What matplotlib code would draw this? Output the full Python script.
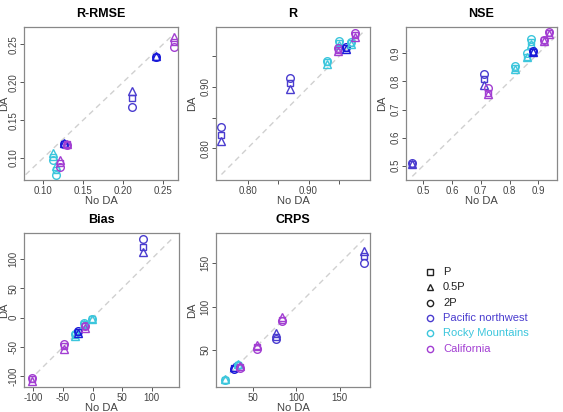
import matplotlib
matplotlib.use("Agg")
import matplotlib.pyplot as plt

plt.rcParams['font.family'] = ['Liberation Sans', 'DejaVu Sans']

# region colours (index 3 = darker blue used for one Pacific northwest basin)
region_names = ["Pacific northwest", "Rocky Mountains", "California"]
region_colors = ["#4a3ccf", "#3cc6dc", "#a23ed2", "#1a1ad8"]

# ---- data: x = No DA, y for P / 0.5P / 2P ----
rrmse_reg = [1, 1, 2, 3, 2, 0, 3, 2]
rrmse_x = [0.112, 0.116, 0.121, 0.126, 0.130, 0.211, 0.241, 0.264]
rrmse_p = [0.101, 0.084, 0.093, 0.119, 0.118, 0.179, 0.234, 0.253]
rrmse_half = [0.106, 0.089, 0.098, 0.120, 0.119, 0.188, 0.235, 0.260]
rrmse_2p = [0.098, 0.078, 0.088, 0.118, 0.117, 0.168, 0.233, 0.246]

r_reg = [0, 0, 1, 1, 2, 3, 1, 2]
r_x = [0.757, 0.869, 0.930, 0.950, 0.949, 0.961, 0.969, 0.977]
r_p = [0.822, 0.906, 0.940, 0.972, 0.960, 0.963, 0.972, 0.985]
r_half = [0.812, 0.896, 0.938, 0.969, 0.959, 0.962, 0.970, 0.982]
r_2p = [0.835, 0.914, 0.942, 0.975, 0.963, 0.965, 0.974, 0.989]

nse_reg = [0, 0, 2, 1, 1, 1, 3, 2, 2]
nse_x = [0.462, 0.712, 0.726, 0.819, 0.860, 0.874, 0.883, 0.920, 0.937]
nse_p = [0.506, 0.808, 0.760, 0.848, 0.888, 0.940, 0.906, 0.946, 0.972]
nse_half = [0.505, 0.787, 0.757, 0.845, 0.886, 0.933, 0.904, 0.944, 0.970]
nse_2p = [0.511, 0.826, 0.777, 0.856, 0.900, 0.951, 0.907, 0.948, 0.975]

bias_reg = [2, 2, 1, 3, 1, 2, 1, 0]
bias_x = [-103, -49, -30, -25, -14, -13, -1, 85]
bias_p = [-105, -49, -29, -25, -10, -15, -3, 121]
bias_half = [-107, -53, -31, -26, -11, -17, -3, 112]
bias_2p = [-102, -44, -27, -23, -9, -14, -2, 134]

crps_reg = [1, 3, 1, 2, 2, 0, 2, 0]
crps_x = [17, 28, 33, 35, 54, 76, 83, 178]
crps_p = [15, 29, 33, 30, 53, 65, 85, 158]
crps_half = [16, 30, 34, 31, 55, 69, 88, 164]
crps_2p = [15, 28, 32, 29, 51, 62, 83, 150]

# tick positions and labels ("" = unlabelled tick)
rrmse_ticks = [0.10, 0.15, 0.20, 0.25]
rrmse_labels = ["0.10", "0.15", "0.20", "0.25"]
r_ticks = [0.80, 0.85, 0.90, 0.95]
r_labels = ["0.80", "", "0.90", ""]
nse_ticks = [0.5, 0.6, 0.7, 0.8, 0.9]
nse_labels = ["0.5", "0.6", "0.7", "0.8", "0.9"]
bias_ticks = [-100, -50, 0, 50, 100]
bias_labels = ["-100", "-50", "0", "50", "100"]
crps_ticks = [50, 100, 150]
crps_labels = ["50", "100", "150"]

panels = [
    ("R-RMSE", rrmse_reg, rrmse_x, rrmse_p, rrmse_half, rrmse_2p,
     (0.076, 0.269), (0.071, 0.273), rrmse_ticks, rrmse_labels),
    ("R", r_reg, r_x, r_p, r_half, r_2p,
     (0.748, 1.001), (0.748, 0.998), r_ticks, r_labels),
    ("NSE", nse_reg, nse_x, nse_p, nse_half, nse_2p,
     (0.440, 0.965), (0.449, 0.994), nse_ticks, nse_labels),
    ("Bias", bias_reg, bias_x, bias_p, bias_half, bias_2p,
     (-116, 146), (-118, 144), bias_ticks, bias_labels),
    ("CRPS", crps_reg, crps_x, crps_p, crps_half, crps_2p,
     (7, 185), (7, 185), crps_ticks, crps_labels),
]

W, H = 563, 412
boxes = [(24, 27, 178, 180), (216, 27, 370, 180), (406, 27, 557, 180),
         (24, 233, 179, 387), (216, 233, 370, 387)]

fig = plt.figure(figsize=(W / 100, H / 100), dpi=100)

for (title, reg, x, yp, yh, y2, xl, yl, ticks, labels), (l, t, r, b) in zip(panels, boxes):
    ax = fig.add_axes([l / W, 1 - b / H, (r - l) / W, (b - t) / H])
    allv = list(x) + list(yp) + list(yh) + list(y2)
    lo, hi = min(allv), max(allv)
    ax.plot([lo, hi], [lo, hi], ls=(0, (4, 3)), color="#d0d0d0", lw=1, zorder=1)
    for i in range(len(x)):
        c = region_colors[reg[i]]
        ax.plot(x[i], yp[i], marker="s", ms=5, mfc="none", mec=c, mew=1, ls="none")
        ax.plot(x[i], yh[i], marker="^", ms=5.5, mfc="none", mec=c, mew=1, ls="none")
        ax.plot(x[i], y2[i], marker="o", ms=5.5, mfc="none", mec=c, mew=1, ls="none")
    ax.set_xlim(*xl)
    ax.set_ylim(*yl)
    ax.set_xticks(ticks)
    ax.set_yticks(ticks)
    ax.set_xticklabels(labels)
    ax.set_yticklabels(labels, rotation=90, va="center")
    ax.tick_params(labelsize=7, colors="#555555", length=3, width=0.7, pad=1,
                   labelcolor="#444444")
    for s in ax.spines.values():
        s.set_color("#888888")
        s.set_linewidth(0.9)
    ax.set_title(title, fontsize=9, fontweight="bold", pad=7)
    ax.set_xlabel("No DA", fontsize=8, color="#444444")
    ax.set_ylabel("DA", fontsize=8, color="#444444")
    ax.xaxis.set_label_coords(0.5, -16 / (b - t))
    # left column sits against the figure edge
    off = 14.5 if l < 100 else 19
    ax.yaxis.set_label_coords(-off / (r - l), 0.5)

# legend area
lg = fig.add_axes([0, 0, 1, 1])
lg.set_xlim(0, W)
lg.set_ylim(H, 0)
lg.axis("off")
legend_markers = ["s", "^", "o", "o", "o", "o"]
legend_labels = ["P", "0.5P", "2P"] + region_names
legend_colors = ["#222222", "#222222", "#222222"] + region_colors[:3]
for k in range(6):
    yy = 272 + 15.3 * k
    lg.plot(430, yy, marker=legend_markers[k], ms=4.5, mfc="none",
            mec=legend_colors[k], mew=1, ls="none")
    lg.text(443, yy, legend_labels[k], color=legend_colors[k], fontsize=8,
            va="center", ha="left")

fig.savefig("out.png", dpi=100)
